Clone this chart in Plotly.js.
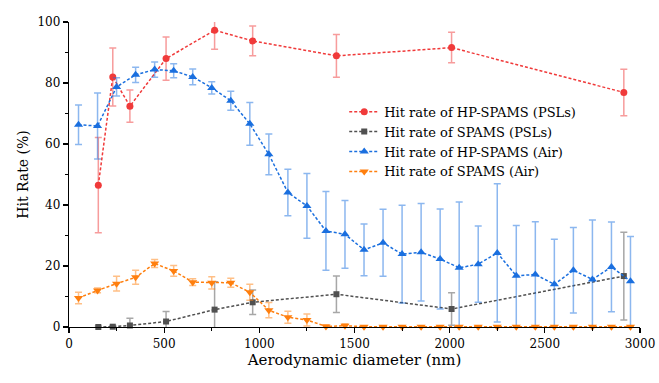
<!DOCTYPE html>
<html>
<head>
<meta charset="utf-8">
<script src="https://cdn.plot.ly/plotly-3.0.1.min.js"></script>
<style>html,body{margin:0;padding:0;background:#fff;}#chart{width:659px;height:383px;}</style>
</head>
<body>
<div id="chart"></div>
<script>
// PSL sizes (nm)
const pslX = [154, 230, 320, 510, 765, 965, 1405, 2010, 2915];
const hpPslY = [46.5, 82.0, 72.4, 88.0, 97.3, 93.8, 88.9, 91.6, 76.9];
const hpPslErr = [15.6, 9.5, 5.3, 7.1, 6.2, 4.9, 7.0, 5.0, 7.6];
const spPslY = [0.0, 0.1, 0.5, 1.8, 5.7, 8.1, 10.75, 5.9, 16.7];
const spPslErr = [0.3, 0.4, 2.4, 3.3, 9.1, 4.0, 6.0, 5.3, 14.4];

// Ambient air size bins (nm)
const airX = [50, 150, 250, 350, 450, 550, 650, 750, 850, 950,
  1050, 1150, 1250, 1350, 1450, 1550, 1650, 1750, 1850, 1950,
  2050, 2150, 2250, 2350, 2450, 2550, 2650, 2750, 2850, 2950];
const hpAirY = [66.3, 65.9, 78.7, 82.7, 84.4, 84.0, 82.0, 78.4, 74.2, 66.6,
  56.6, 44.1, 39.7, 31.5, 30.4, 25.3, 27.6, 23.9, 24.5, 22.3,
  19.4, 20.6, 24.3, 16.8, 17.2, 14.0, 18.6, 15.6, 19.7, 15.0];
const hpAirErr = [6.5, 10.8, 3.0, 2.5, 2.5, 2.3, 2.6, 2.0, 3.1, 7.0,
  6.7, 7.6, 10.6, 12.9, 11.1, 8.5, 11.0, 16.0, 16.0, 16.4,
  21.6, 12.5, 22.7, 16.5, 17.3, 14.8, 14.0, 19.5, 14.7, 14.7];
const spAirY = [9.5, 12.0, 14.2, 16.3, 20.8, 18.4, 14.7, 14.5, 14.5, 11.4,
  5.5, 3.2, 2.3, 0.2, 0.4, 0.1, 0.1, 0.1, 0.1, 0.1,
  0.1, 0.1, 0.1, 0.1, 0.1, 0.1, 0.1, 0.1, 0.1, 0.1];
const spAirErr = [1.9, 0.8, 2.4, 2.3, 1.3, 1.8, 1.1, 2.0, 1.5, 2.6,
  2.5, 2.0, 2.0, 0.5, 0.7, 0.3, 0.3, 0.3, 0.3, 0.3,
  0.3, 0.3, 0.3, 0.3, 0.3, 0.3, 0.3, 0.3, 0.3, 0.3];

const names = ['Hit rate of HP-SPAMS (PSLs)', 'Hit rate of SPAMS (PSLs)',
  'Hit rate of HP-SPAMS (Air)', 'Hit rate of SPAMS (Air)'];

function tr(x, y, err, name, color, errColor, symbol, size) {
  return {
    x: x, y: y, name: name, type: 'scatter', mode: 'lines+markers',
    cliponaxis: false,
    line: {color: color, width: 1.5, dash: '3px,2px'},
    marker: {color: color, symbol: symbol, size: size},
    error_y: {type: 'data', array: err, visible: true, color: errColor, thickness: 1.5, width: 3.5}
  };
}

const data = [
  tr(pslX, hpPslY, hpPslErr, names[0], '#F03A3A', 'rgba(240,58,58,0.5)', 'circle', 7),
  tr(pslX, spPslY, spPslErr, names[1], '#505050', 'rgba(80,80,80,0.5)', 'square', 6),
  tr(airX, hpAirY, hpAirErr, names[2], '#1A6FDF', 'rgba(26,111,223,0.5)', 'triangle-up', 8),
  tr(airX, spAirY, spAirErr, names[3], '#FF7F0E', 'rgba(255,127,14,0.5)', 'triangle-down', 8)
];

const FAM = 'DejaVu Serif';
const f = (s) => ({family: FAM, size: s, color: '#000'});

const layout = {
  width: 659, height: 383,
  margin: {l: 69, r: 19, t: 22, b: 56},
  paper_bgcolor: '#fff', plot_bgcolor: 'rgba(0,0,0,0)',
  font: f(12),
  showlegend: true,
  legend: {x: 0.482, y: 0.755, xanchor: 'left', yanchor: 'top', bgcolor: 'rgba(0,0,0,0)',
    font: f(13), tracegroupgap: 0},
  xaxis: {
    range: [0, 3000], showline: true, linecolor: '#000', linewidth: 1.2, zeroline: false, showgrid: false,
    ticks: 'outside', ticklen: 5, tickwidth: 1.2, tickcolor: '#000', dtick: 500, tick0: 0,
    minor: {ticks: 'outside', ticklen: 3, dtick: 250, tickcolor: '#000', tickwidth: 1},
    tickfont: f(12),
    title: {text: 'Aerodynamic diameter (nm)', font: f(15), standoff: 0}
  },
  yaxis: {
    range: [0, 100], showline: true, linecolor: '#000', linewidth: 1.2, zeroline: false, showgrid: false,
    ticks: 'outside', ticklen: 5, tickwidth: 1.2, tickcolor: '#000', dtick: 20, tick0: 0,
    minor: {ticks: 'outside', ticklen: 3, dtick: 10, tickcolor: '#000', tickwidth: 1},
    tickfont: f(12),
    title: {text: 'Hit Rate (%)', font: f(14), standoff: 5}
  }
};

Plotly.newPlot('chart', data, layout, {displayModeBar: false, staticPlot: true});
</script>
</body>
</html>
